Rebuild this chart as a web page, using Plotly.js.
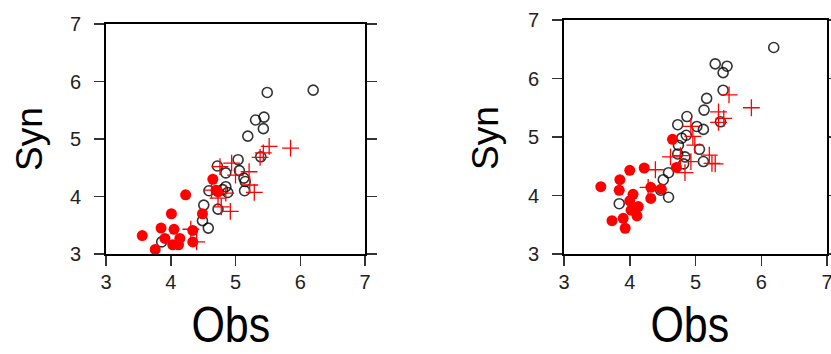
<!DOCTYPE html>
<html>
<head>
<meta charset="utf-8">
<script src="https://cdn.plot.ly/plotly-3.0.1.min.js"></script>
<style>html,body{margin:0;padding:0;background:#fff;}#chart{width:831px;height:354px;}</style>
</head>
<body>
<div id="chart"></div>
<script>
// ---- Data (Obs, Syn) ----
// Left panel
var leftOpenObs = [6.20,5.49,5.31,5.44,5.43,5.19,5.39,5.04,4.72,4.85,5.06,5.13,5.15,4.59,4.85,4.88,5.14,4.51,4.73,4.49,4.58,3.86,4.80];
var leftOpenSyn = [5.85,5.81,5.33,5.38,5.18,5.05,4.69,4.64,4.53,4.41,4.45,4.32,4.26,4.10,4.17,4.07,4.10,3.85,3.78,3.58,3.45,3.21,4.12];
var leftDotObs  = [4.65,4.23,4.70,4.73,4.01,4.49,3.85,4.05,4.34,3.56,3.91,4.14,4.03,4.12,3.76,4.34];
var leftDotSyn  = [4.30,4.03,4.11,4.08,3.70,3.70,3.45,3.43,3.41,3.32,3.27,3.27,3.16,3.16,3.08,3.21];
var leftPlusObs = [5.85,5.52,5.43,5.38,4.94,4.76,5.21,5.00,5.22,5.29,4.63,4.85,4.73,4.78,4.92,4.31,4.40];
var leftPlusSyn = [4.84,4.87,4.76,4.68,4.58,4.52,4.43,4.37,4.20,4.07,4.11,4.06,3.97,3.82,3.74,3.43,3.21];
// Right panel
var rightOpenObs = [6.19,5.30,5.48,5.42,5.42,5.17,5.13,4.87,4.73,5.02,5.12,4.86,4.79,4.74,5.06,5.38,4.73,4.84,4.82,5.12,4.59,4.51,4.47,4.59,3.84];
var rightOpenSyn = [6.53,6.25,6.21,6.10,5.80,5.66,5.46,5.35,5.21,5.18,5.13,5.03,4.98,4.86,4.79,5.26,4.71,4.66,4.54,4.58,4.39,4.27,4.09,3.97,3.86];
var rightDotObs  = [4.65,4.22,4.00,3.85,3.56,3.84,4.05,4.32,4.48,4.71,4.32,4.00,4.13,4.02,4.11,3.90,3.73,3.93];
var rightDotSyn  = [4.96,4.47,4.43,4.27,4.15,4.09,4.02,4.14,4.11,4.48,3.95,3.91,3.81,3.75,3.65,3.61,3.57,3.44];
var rightPlusObs = [5.51,5.85,5.35,5.43,5.35,4.93,4.96,4.99,5.21,5.25,5.30,4.62,4.77,4.93,4.84,4.39,4.28];
var rightPlusSyn = [5.72,5.50,5.43,5.32,5.25,5.18,5.01,4.86,4.69,4.55,4.54,4.66,4.68,4.58,4.39,4.44,4.14];

var tickValues = [3,4,5,6,7];
var tickLabels = ['3','4','5','6','7'];
var topTickValues = [3,4,6,7];
var xTitle = 'Obs';
var yTitle = 'Syn';

var W = 831, H = 354;
function px(x){return x/W;}
function py(y){return (H-y)/H;}

var openMarker = {symbol:'circle-open', size:10, color:'rgba(0,0,0,0.8)', line:{width:1.6, color:'rgba(0,0,0,0.8)'}};
var dotMarker  = {symbol:'circle', size:11, color:'#ff0000', line:{width:0}};
var plusMarker = {symbol:'cross-thin-open', size:12, color:'#ff0000', line:{width:1.3, color:'#ff0000'}};

function trio(xo,yo,xd,yd,xp,yp,xa,ya){
  return [
    {type:'scatter', mode:'markers', x:xo, y:yo, marker:openMarker, xaxis:xa, yaxis:ya, hoverinfo:'skip'},
    {type:'scatter', mode:'markers', x:xp, y:yp, marker:plusMarker, xaxis:xa, yaxis:ya, hoverinfo:'skip'},
    {type:'scatter', mode:'markers', x:xd, y:yd, marker:dotMarker, xaxis:xa, yaxis:ya, hoverinfo:'skip'}
  ];
}
var data = [].concat(
  trio(leftOpenObs,leftOpenSyn,leftDotObs,leftDotSyn,leftPlusObs,leftPlusSyn,'x','y'),
  trio(rightOpenObs,rightOpenSyn,rightDotObs,rightDotSyn,rightPlusObs,rightPlusSyn,'x2','y2')
);

var tickFont = {family:'Liberation Sans, Arial, sans-serif', size:20, color:'#222'};
function xAxis(dom, anchor){
  return {domain:dom, range:[3,7], anchor:anchor, tickvals:tickValues, ticktext:tickLabels,
    ticks:'outside', ticklen:10, tickwidth:1.5, tickcolor:'#333', showline:true, linewidth:2,
    linecolor:'#000', mirror:true, showgrid:false, zeroline:false, tickfont:tickFont,
    ticklabelstandoff:-1, ticklabeloverflow:'allow', fixedrange:true};
}
function yAxis(dom, anchor){
  return {domain:dom, range:[3,7], anchor:anchor, tickvals:tickValues, ticktext:tickLabels,
    ticks:'outside', ticklen:10, tickwidth:1.5, tickcolor:'#333', showline:true, linewidth:2,
    linecolor:'#000', mirror:'ticks', showgrid:false, zeroline:false, tickfont:tickFont,
    ticklabelstandoff:9, ticklabeloverflow:'allow', fixedrange:true};
}
function topAxis(over, anchor){
  return {overlaying:over, side:'top', anchor:anchor, range:[3,7], tickvals:topTickValues,
    ticks:'outside', ticklen:10, tickwidth:1.5, tickcolor:'#333', showline:false,
    showticklabels:false, showgrid:false, zeroline:false, fixedrange:true};
}

var titleFontY = {family:'Liberation Sans, Arial, sans-serif', size:37, color:'#000'};
var titleFontX = {family:'Liberation Sans, Arial, sans-serif', size:50, color:'#000'};

var layout = {
  width:W, height:H, margin:{l:0,r:0,t:0,b:0},
  paper_bgcolor:'#fff', plot_bgcolor:'#fff', showlegend:false,
  xaxis: xAxis([px(106), px(365)], 'y'),
  yaxis: yAxis([py(254), py(24)], 'x'),
  xaxis2: xAxis([px(564), px(827)], 'y2'),
  yaxis2: yAxis([py(254), py(20)], 'x2'),
  xaxis3: topAxis('x','y'),
  xaxis4: topAxis('x2','y2'),
  annotations:[
    {text:yTitle, xref:'paper', yref:'paper', x:px(29), y:py(139), textangle:-90, showarrow:false, xanchor:'center', yanchor:'middle', font:titleFontY, borderpad:0},
    {text:yTitle, xref:'paper', yref:'paper', x:px(485), y:py(138), textangle:-90, showarrow:false, xanchor:'center', yanchor:'middle', font:titleFontY, borderpad:0},
    {text:xTitle, xref:'paper', yref:'paper', x:px(231), y:0, showarrow:false, xanchor:'center', yanchor:'bottom', font:titleFontX, borderpad:0},
    {text:xTitle, xref:'paper', yref:'paper', x:px(690), y:0, showarrow:false, xanchor:'center', yanchor:'bottom', font:titleFontX, borderpad:0}
  ]
};

Plotly.newPlot('chart', data, layout, {staticPlot:true, displayModeBar:false}).then(function(gd){
  // condense the axis-title text horizontally (the reference uses a narrow face)
  var texts = gd.querySelectorAll('.annotation-text');
  texts.forEach(function(t){
    if (t.textContent === xTitle) {
      var bb = t.getBBox();
      var cx = bb.x + bb.width/2;
      t.setAttribute('transform', 'translate(' + cx + ',0) scale(0.86,1) translate(' + (-cx) + ',0)');
    }
  });
});
</script>
</body>
</html>
